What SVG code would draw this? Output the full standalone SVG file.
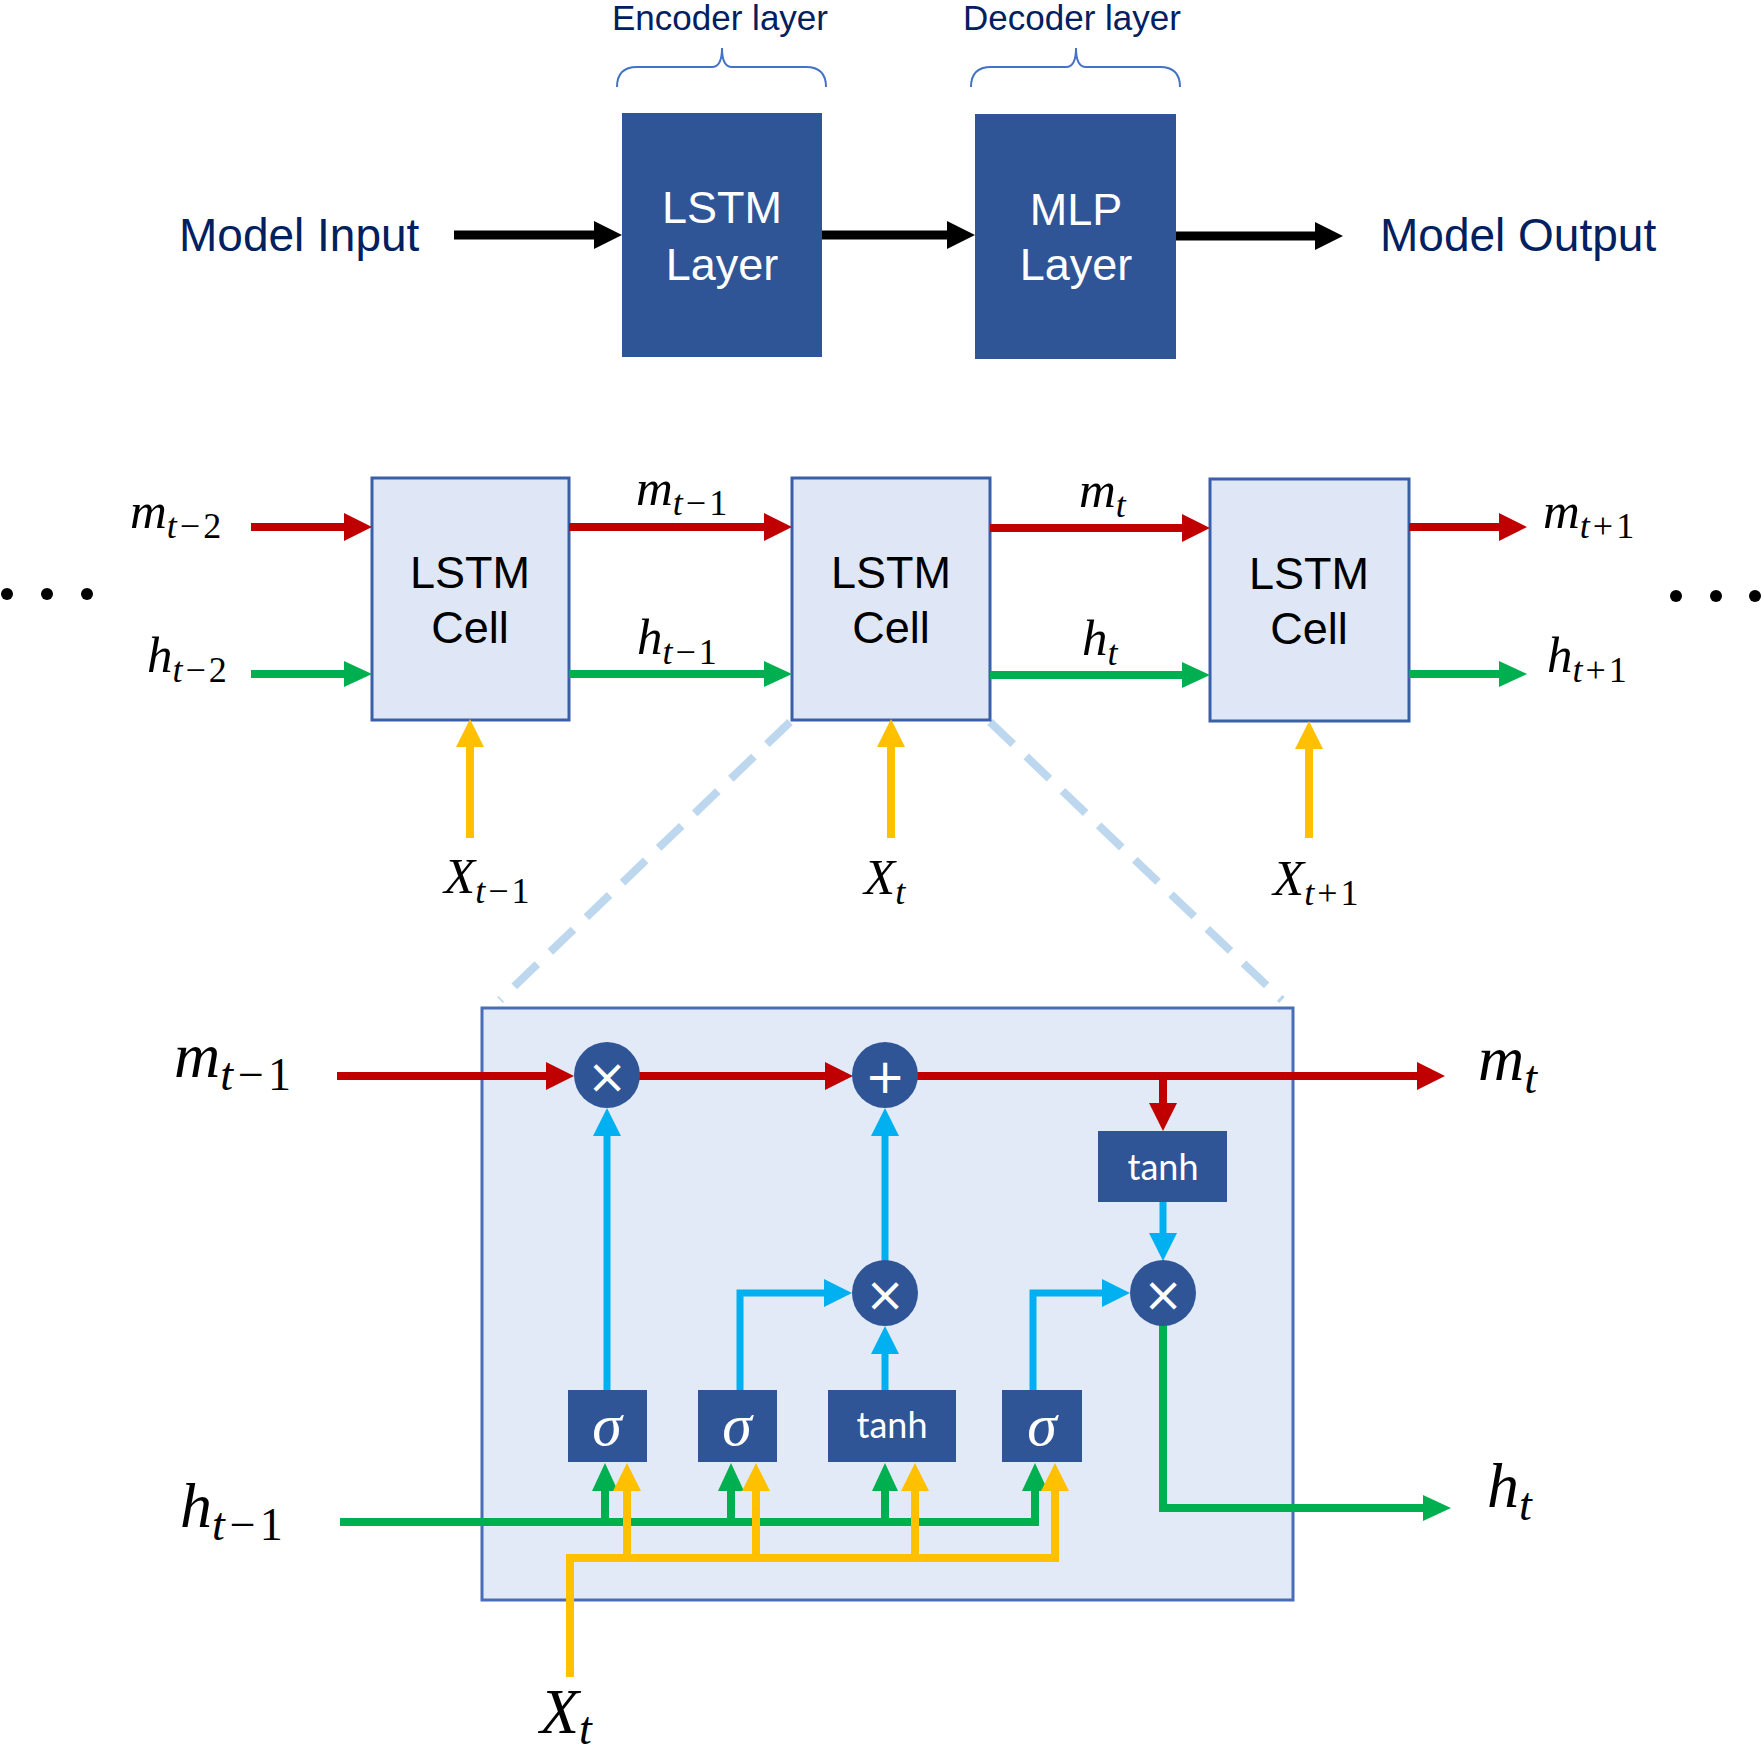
<svg xmlns="http://www.w3.org/2000/svg" width="1764" height="1753" viewBox="0 0 1764 1753">
<style>
.navy{font-family:"Liberation Sans",Arial,sans-serif;fill:#002060}
.wt{font-family:"Liberation Sans",Arial,sans-serif;fill:#fff;font-size:45px;text-anchor:middle}
.bk{font-family:"Liberation Sans",Arial,sans-serif;fill:#000;font-size:45px;text-anchor:middle}
.var{font-family:"Liberation Serif","Times New Roman",serif;font-style:italic;fill:#000}
.v1{font-size:51px}
.v1 .sub{font-size:36px}
.v2{font-size:64px}
.v2 .sub{font-size:46px}
.up{font-style:normal}
.dark{fill:#2F5597}
.cell{fill:#DFE7F6;stroke:#3B5EA8;stroke-width:3}
.big{fill:#E2EAF7;stroke:#4A6DB5;stroke-width:3}
.sig{font-family:"Liberation Serif","Times New Roman",serif;font-style:italic;fill:#fff;font-size:60px;text-anchor:middle}
.tanh{font-family:Lato,"Open Sans",sans-serif;fill:#fff;font-size:36px;text-anchor:middle}
.op{font-family:"DejaVu Sans",sans-serif;fill:#fff;font-size:48px;text-anchor:middle}
.k{stroke:#000;stroke-width:9;fill:none;marker-end:url(#hk)}
.r{stroke:#C00000;stroke-width:8;fill:none}
.ra{marker-end:url(#hr)}
.g{stroke:#00B050;stroke-width:8;fill:none}
.ga{marker-end:url(#hg)}
.y{stroke:#FFC000;stroke-width:8;fill:none}
.ya{marker-end:url(#hy)}
.b{stroke:#00B0F0;stroke-width:7;fill:none;marker-end:url(#hb)}
.dash{stroke:#BDD7EE;stroke-width:8;stroke-dasharray:32 18;fill:none}
.brace{stroke:#4472C4;stroke-width:2;fill:none}
</style>
<defs>
<marker id="hk" viewBox="0 0 28 28" refX="2" refY="14" markerWidth="28" markerHeight="28" markerUnits="userSpaceOnUse" orient="auto"><path d="M0,0 L28,14 L0,28 z" fill="#000"/></marker>
<marker id="hr" viewBox="0 0 28 28" refX="2" refY="14" markerWidth="28" markerHeight="28" markerUnits="userSpaceOnUse" orient="auto"><path d="M0,0 L28,14 L0,28 z" fill="#C00000"/></marker>
<marker id="hg" viewBox="0 0 28 28" refX="2" refY="14" markerWidth="28" markerHeight="28" markerUnits="userSpaceOnUse" orient="auto"><path d="M0,1 L28,14 L0,27 z" fill="#00B050"/></marker>
<marker id="hy" viewBox="0 0 28 28" refX="2" refY="14" markerWidth="28" markerHeight="28" markerUnits="userSpaceOnUse" orient="auto"><path d="M0,0 L28,14 L0,28 z" fill="#FFC000"/></marker>
<marker id="hb" viewBox="0 0 28 28" refX="2" refY="14" markerWidth="28" markerHeight="28" markerUnits="userSpaceOnUse" orient="auto"><path d="M0,0 L28,14 L0,28 z" fill="#00B0F0"/></marker>
</defs>
<rect width="1764" height="1753" fill="#fff"/>

<g id="encoder-label">
<text class="navy" x="720" y="30" font-size="35" text-anchor="middle">Encoder layer</text>
<path class="brace" d="M617,87 Q617,67 637,67 L712,67 Q722,67 722,48 Q722,67 732,67 L806,67 Q826,67 826,87"/>
</g>
<g id="decoder-label">
<text class="navy" x="1072" y="30" font-size="35" text-anchor="middle">Decoder layer</text>
<path class="brace" d="M971,87 Q971,67 991,67 L1066,67 Q1076,67 1076,48 Q1076,67 1086,67 L1160,67 Q1180,67 1180,87"/>
</g>
<g id="model-input"><text class="navy" x="179" y="251" font-size="46">Model Input</text></g>
<g id="model-output"><text class="navy" x="1380" y="251" font-size="46">Model Output</text></g>
<g id="lstm-layer">
<rect class="dark" x="622" y="113" width="200" height="244"/>
<text class="wt" x="722" y="223">LSTM</text>
<text class="wt" x="722" y="280">Layer</text>
</g>
<g id="mlp-layer">
<rect class="dark" x="975" y="114" width="201" height="245"/>
<text class="wt" x="1076" y="225">MLP</text>
<text class="wt" x="1076" y="280">Layer</text>
</g>

<g id="zoom-lines">
<line class="dash" x1="790" y1="722" x2="500" y2="1000"/>
<line class="dash" x1="990" y1="722" x2="1282" y2="1000"/>
</g>

<g id="cell-1"><rect class="cell" x="372" y="478" width="197" height="242"/><text class="bk" x="470" y="588">LSTM</text><text class="bk" x="470" y="643">Cell</text></g>
<g id="cell-2"><rect class="cell" x="792" y="478" width="198" height="242"/><text class="bk" x="891" y="588">LSTM</text><text class="bk" x="891" y="643">Cell</text></g>
<g id="cell-3"><rect class="cell" x="1210" y="479" width="199" height="242"/><text class="bk" x="1309" y="589">LSTM</text><text class="bk" x="1309" y="644">Cell</text></g>

<g id="dots-left"><circle cx="7" cy="594" r="6"/><circle cx="47" cy="594" r="6"/><circle cx="87" cy="594" r="6"/></g>
<g id="dots-right"><circle cx="1676" cy="596" r="6"/><circle cx="1716" cy="596" r="6"/><circle cx="1755" cy="596" r="6"/></g>

<g id="chain-labels">
<text class="var v1" x="130" y="528">m<tspan class="sub" dy="10">t<tspan class="up" dx="3">−</tspan><tspan class="up" dx="3">2</tspan></tspan></text>
<text class="var v1" x="147" y="672">h<tspan class="sub" dy="10">t<tspan class="up" dx="3">−</tspan><tspan class="up" dx="3">2</tspan></tspan></text>
<text class="var v1" x="636" y="505">m<tspan class="sub" dy="10">t<tspan class="up" dx="3">−</tspan><tspan class="up" dx="3">1</tspan></tspan></text>
<text class="var v1" x="637" y="654">h<tspan class="sub" dy="10">t<tspan class="up" dx="3">−</tspan><tspan class="up" dx="3">1</tspan></tspan></text>
<text class="var v1" x="1079" y="507">m<tspan class="sub" dy="10">t</tspan></text>
<text class="var v1" x="1082" y="655">h<tspan class="sub" dy="10">t</tspan></text>
<text class="var v1" x="1543" y="528">m<tspan class="sub" dy="10">t<tspan class="up" dx="3">+</tspan><tspan class="up" dx="3">1</tspan></tspan></text>
<text class="var v1" x="1547" y="672">h<tspan class="sub" dy="10">t<tspan class="up" dx="3">+</tspan><tspan class="up" dx="3">1</tspan></tspan></text>
<text class="var v1" x="444" y="893">X<tspan class="sub" dy="10">t<tspan class="up" dx="3">−</tspan><tspan class="up" dx="3">1</tspan></tspan></text>
<text class="var v1" x="864" y="894">X<tspan class="sub" dy="10">t</tspan></text>
<text class="var v1" x="1273" y="895">X<tspan class="sub" dy="10">t<tspan class="up" dx="3">+</tspan><tspan class="up" dx="3">1</tspan></tspan></text>
</g>

<g id="cell-detail"><rect class="big" x="482" y="1008" width="811" height="592"/></g>

<g id="connectors">
<line class="k" x1="454" y1="235" x2="596" y2="235"/>
<line class="k" x1="822" y1="235" x2="949" y2="235"/>
<line class="k" x1="1176" y1="236" x2="1317" y2="236"/>

<line class="r ra" x1="251" y1="527" x2="346" y2="527"/>
<line class="r ra" x1="569" y1="527" x2="766" y2="527"/>
<line class="r ra" x1="990" y1="528" x2="1184" y2="528"/>
<line class="r ra" x1="1409" y1="527" x2="1501" y2="527"/>
<line class="g ga" x1="251" y1="674" x2="346" y2="674"/>
<line class="g ga" x1="569" y1="674" x2="766" y2="674"/>
<line class="g ga" x1="990" y1="675" x2="1184" y2="675"/>
<line class="g ga" x1="1409" y1="674" x2="1501" y2="674"/>
<line class="y ya" x1="470" y1="838" x2="470" y2="745"/>
<line class="y ya" x1="891" y1="838" x2="891" y2="745"/>
<line class="y ya" x1="1309" y1="838" x2="1309" y2="747"/>

<line class="r ra" x1="337" y1="1076" x2="548" y2="1076"/>
<line class="r ra" x1="639" y1="1076" x2="827" y2="1076"/>
<line class="r ra" x1="917" y1="1076" x2="1419" y2="1076"/>
<line class="r ra" x1="1163" y1="1076" x2="1163" y2="1105"/>

<line class="b" x1="1163" y1="1202" x2="1163" y2="1235"/>
<line class="b" x1="607" y1="1390" x2="607" y2="1134"/>
<line class="b" x1="885" y1="1261" x2="885" y2="1134"/>
<path class="b" d="M740,1390 V1293 H826"/>
<line class="b" x1="885" y1="1390" x2="885" y2="1352"/>
<path class="b" d="M1033,1390 V1293 H1104"/>

<path class="g ga" d="M340,1522 H1035 V1489"/>
<line class="g ga" x1="605" y1="1522" x2="605" y2="1489"/>
<line class="g ga" x1="731" y1="1522" x2="731" y2="1489"/>
<line class="g ga" x1="885" y1="1522" x2="885" y2="1489"/>
<path class="g ga" d="M1163,1325 V1508 H1425"/>

<path class="y ya" d="M570,1677 V1558 H1055 V1489"/>
<line class="y ya" x1="627" y1="1558" x2="627" y2="1489"/>
<line class="y ya" x1="756" y1="1558" x2="756" y2="1489"/>
<line class="y ya" x1="915" y1="1558" x2="915" y2="1489"/>
</g>

<g id="mult-forget"><circle class="dark" cx="607" cy="1075" r="33"/><text class="op" x="607" y="1093">×</text></g>
<g id="add"><circle class="dark" cx="885" cy="1075" r="33"/><text class="op" x="885" y="1093">+</text></g>
<g id="mult-input"><circle class="dark" cx="885" cy="1293" r="33"/><text class="op" x="885" y="1311">×</text></g>
<g id="mult-output"><circle class="dark" cx="1163" cy="1293" r="33"/><text class="op" x="1163" y="1311">×</text></g>
<g id="tanh-out"><rect class="dark" x="1098" y="1131" width="129" height="71"/><text class="tanh" x="1163" y="1180">tanh</text></g>
<g id="sigma-1"><rect class="dark" x="568" y="1390" width="79" height="72"/><text class="sig" x="607" y="1445">σ</text></g>
<g id="sigma-2"><rect class="dark" x="698" y="1390" width="79" height="72"/><text class="sig" x="737" y="1445">σ</text></g>
<g id="tanh-in"><rect class="dark" x="828" y="1390" width="128" height="72"/><text class="tanh" x="892" y="1438">tanh</text></g>
<g id="sigma-3"><rect class="dark" x="1002" y="1390" width="80" height="72"/><text class="sig" x="1042" y="1445">σ</text></g>

<g id="detail-labels">
<text class="var v2" x="174" y="1077">m<tspan class="sub" dy="13">t<tspan class="up" dx="5">−</tspan><tspan class="up" dx="4">1</tspan></tspan></text>
<text class="var v2" x="1478" y="1080">m<tspan class="sub" dy="13">t</tspan></text>
<text class="var v2" x="180" y="1527">h<tspan class="sub" dy="13">t<tspan class="up" dx="5">−</tspan><tspan class="up" dx="4">1</tspan></tspan></text>
<text class="var v2" x="1487" y="1507">h<tspan class="sub" dy="13">t</tspan></text>
<text class="var v2" x="540" y="1733">X<tspan class="sub" dy="11">t</tspan></text>
</g>
</svg>
